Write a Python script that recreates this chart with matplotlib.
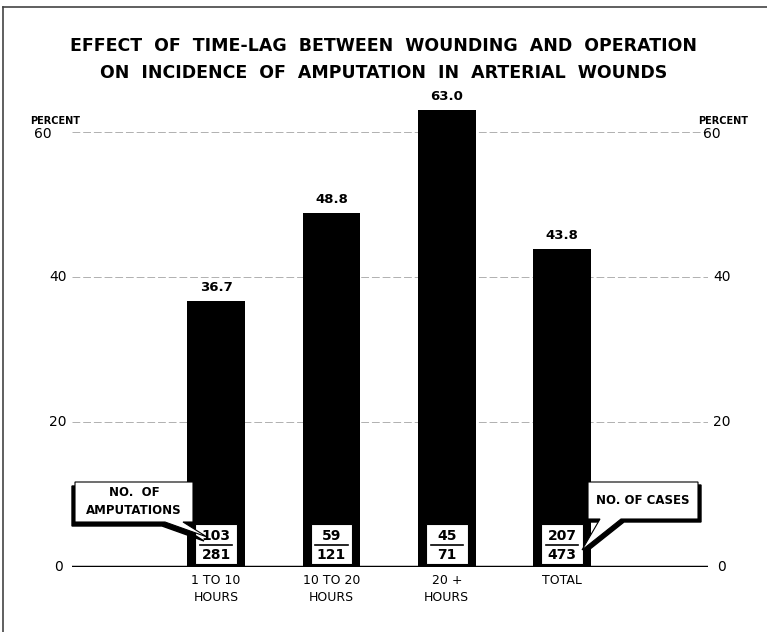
import numpy as np
import matplotlib
matplotlib.use('Agg')
import matplotlib.pyplot as plt
from matplotlib.patches import Polygon, Rectangle
from matplotlib.lines import Line2D

# Data
categories = ['1 TO 10\nHOURS', '10 TO 20\nHOURS', '20 +\nHOURS', 'TOTAL']
percent = [36.7, 48.8, 63.0, 43.8]
amputations = [103, 59, 45, 207]
cases = [281, 121, 71, 473]
yticks = [0, 20, 40, 60]

W, H = 767, 632
fig = plt.figure(figsize=(W / 100, H / 100), dpi=100)

# axes placed in pixel terms: x from 72 to 708, y(0) at 567
ax_l, ax_r = 72, 708
y0_px, ytop = 567, 65.0
px_per_unit = 7.25
ax_top_px = y0_px - ytop * px_per_unit
ax = fig.add_axes([ax_l / W, (H - y0_px) / H, (ax_r - ax_l) / W, (y0_px - ax_top_px) / H])

x = np.arange(len(categories))
xmin, xmax = -1.25, 4.265
ax.set_xlim(xmin, xmax)
ax.set_ylim(0, ytop)
for s in ax.spines.values():
    s.set_visible(False)
ax.set_xticks([])
ax.set_yticks([])


def px2data(px, py):
    xd = xmin + (px - ax_l) / (ax_r - ax_l) * (xmax - xmin)
    yd = (y0_px - py) / px_per_unit
    return xd, yd


# grid lines
for t in yticks[1:]:
    ax.axhline(t, color='#b0b0b0', lw=0.7, ls=(0, (8, 3)), zorder=1)
ax.axhline(0, color='black', lw=2.5, zorder=4)

# bars
bw = 0.5
ax.bar(x, percent, width=bw, color='black', zorder=2)

for xi, v in zip(x, percent):
    ax.text(xi, v + 1.0, f'{v:.1f}', ha='center', va='bottom', fontsize=9.5,
            fontweight='bold')

# fraction boxes inside bars
for xi, a, c in zip(x, amputations, cases):
    ax.add_patch(Rectangle((xi - 0.18, 0.35), 0.36, 5.6, facecolor='white',
                           edgecolor='black', lw=0.8, zorder=5))
    ax.text(xi, 4.3, str(a), ha='center', va='center', fontsize=10,
            fontweight='bold', zorder=6)
    ax.plot([xi - 0.14, xi + 0.14], [3.1, 3.1], color='black', lw=1.2, zorder=6)
    ax.text(xi, 1.65, str(c), ha='center', va='center', fontsize=10,
            fontweight='bold', zorder=6)

# category labels
for xi, lab in zip(x, categories):
    ax.text(xi, -0.9, lab, ha='center', va='top', fontsize=9,
            linespacing=1.45, clip_on=False)

# tick labels on both sides
for t in yticks:
    lx = 43 if t == 60 else 58
    rx = 712 if t == 60 else 722
    py = y0_px - t * px_per_unit + (2 if t == 60 else 0)
    ax.text(*px2data(lx, py), str(t), ha='center', va='center', fontsize=10,
            clip_on=False)
    ax.text(*px2data(rx, py), str(t), ha='center', va='center', fontsize=10,
            clip_on=False)
ax.text(*px2data(30, 121), 'PERCENT', ha='left', va='center', fontsize=7,
        fontweight='bold', clip_on=False)
ax.text(*px2data(748, 121), 'PERCENT', ha='right', va='center', fontsize=7,
        fontweight='bold', clip_on=False)

# callout: number of amputations
left_pts = [(75, 482), (193, 482), (193, 522), (183, 522), (207, 537),
            (165, 522), (75, 522)]
shadow_l = [(px - 3, py + 4) for px, py in left_pts]
ax.add_patch(Polygon([px2data(*p) for p in shadow_l], closed=True,
                     facecolor='black', edgecolor='black', zorder=6,
                     clip_on=False))
ax.add_patch(Polygon([px2data(*p) for p in left_pts], closed=True,
                     facecolor='white', edgecolor='black', lw=0.8, zorder=7,
                     clip_on=False))
tx, ty = px2data(134, 502)
ax.text(tx, ty, 'NO.  OF\nAMPUTATIONS', ha='center', va='center',
        fontsize=8.5, fontweight='bold', linespacing=1.5, zorder=8)

# callout: number of cases
right_pts = [(588, 482), (698, 482), (698, 519), (621, 519), (582, 550),
             (600, 519), (588, 519)]
shadow_r = [(px + 3, py + 3) for px, py in right_pts]
ax.add_patch(Polygon([px2data(*p) for p in shadow_r], closed=True,
                     facecolor='black', edgecolor='black', zorder=6,
                     clip_on=False))
ax.add_patch(Polygon([px2data(*p) for p in right_pts], closed=True,
                     facecolor='white', edgecolor='black', lw=0.8, zorder=7,
                     clip_on=False))
tx, ty = px2data(643, 501)
ax.text(tx, ty, 'NO. OF CASES', ha='center', va='center', fontsize=8.5,
        fontweight='bold', zorder=8)

# title
fig.text(0.5, (H - 46) / H, 'EFFECT  OF  TIME-LAG  BETWEEN  WOUNDING  AND  OPERATION',
         ha='center', va='center', fontsize=12.5, fontweight='bold')
fig.text(0.5, (H - 73) / H, 'ON  INCIDENCE  OF  AMPUTATION  IN  ARTERIAL  WOUNDS',
         ha='center', va='center', fontsize=12.5, fontweight='bold')

# page frame (left and top edges)
fig.add_artist(Line2D([3 / W, 3 / W], [0, (H - 7) / H], transform=fig.transFigure,
                      color='#444444', lw=1.2))
fig.add_artist(Line2D([3 / W, 1], [(H - 7) / H, (H - 7) / H],
                      transform=fig.transFigure, color='#444444', lw=1.2))

fig.savefig('out.png', dpi=100)
